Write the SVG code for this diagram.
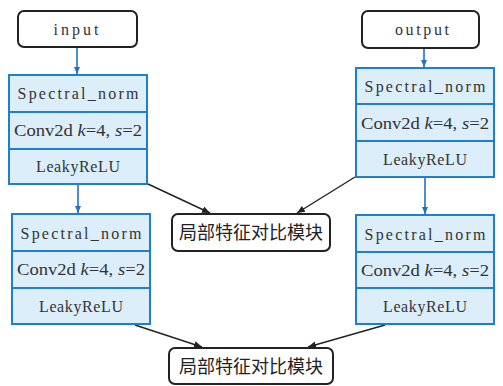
<svg xmlns="http://www.w3.org/2000/svg" width="503" height="386" viewBox="0 0 503 386">
<defs>
<style>
.io{fill:#fff;stroke:#222;stroke-width:2}
.blk{fill:#dcEEFA;stroke:#1f7fcc;stroke-width:2}
.div{stroke:#1f7fcc;stroke-width:2}
.m{font-family:"Liberation Serif",serif;font-size:16px;fill:#333;text-anchor:middle}
.i{font-style:italic}
.cn{font-family:"Noto Sans CJK SC",sans-serif;font-size:18px;fill:#222;text-anchor:middle}
.ba{stroke:#1f72c4;stroke-width:1.6;fill:none}
.ka{stroke:#222;stroke-width:1.4;fill:none}
</style>
<marker id="bh" markerWidth="8" markerHeight="10" refX="7" refY="4" orient="auto" markerUnits="userSpaceOnUse">
<path d="M0,1 L7,4 L0,7 Z" fill="#1f72c4"/>
</marker>
<marker id="kh" markerWidth="10" markerHeight="10" refX="8" refY="4" orient="auto" markerUnits="userSpaceOnUse">
<path d="M0,0.5 L8,4 L0,7.5 Z" fill="#222"/>
</marker>
</defs>
<g id="connectors">
<line class="ba" x1="77" y1="47" x2="77" y2="74" marker-end="url(#bh)"/>
<line class="ba" x1="78" y1="185" x2="78" y2="213" marker-end="url(#bh)"/>
<line class="ba" x1="424" y1="48" x2="424" y2="67" marker-end="url(#bh)"/>
<line class="ba" x1="425" y1="178" x2="425" y2="214" marker-end="url(#bh)"/>
<line class="ka" x1="148" y1="184" x2="210" y2="213" marker-end="url(#kh)"/>
<line class="ka" x1="355" y1="177" x2="297" y2="213" marker-end="url(#kh)"/>
<line class="ka" x1="135" y1="325" x2="202" y2="347" marker-end="url(#kh)"/>
<line class="ka" x1="385" y1="325" x2="308" y2="347" marker-end="url(#kh)"/>
</g>
<g id="input">
<rect class="io" x="18" y="11" width="119" height="36" rx="6"/>
<text class="m" x="76" y="35" textLength="45" lengthAdjust="spacing">input</text>
</g>
<g id="output">
<rect class="io" x="362" y="11" width="117" height="37" rx="6"/>
<text class="m" x="422" y="35" textLength="54" lengthAdjust="spacing">output</text>
</g>
<g id="blockL1">
<rect class="blk" x="9" y="75" width="138" height="109"/>
<line class="div" x1="9" y1="112" x2="147" y2="112"/>
<line class="div" x1="9" y1="149" x2="147" y2="149"/>
<text class="m" x="78" y="99" textLength="121" lengthAdjust="spacing">Spectral_norm</text>
<text class="m" x="78" y="136" textLength="128" lengthAdjust="spacingAndGlyphs">Conv2d <tspan class="i">k</tspan>=4, <tspan class="i">s</tspan>=2</text>
<text class="m" x="78" y="172" textLength="84" lengthAdjust="spacing">LeakyReLU</text>
</g>
<g id="blockR1">
<rect class="blk" x="356" y="68" width="138" height="109"/>
<line class="div" x1="356" y1="104" x2="494" y2="104"/>
<line class="div" x1="356" y1="141" x2="494" y2="141"/>
<text class="m" x="425" y="92" textLength="121" lengthAdjust="spacing">Spectral_norm</text>
<text class="m" x="425" y="128.5" textLength="128" lengthAdjust="spacingAndGlyphs">Conv2d <tspan class="i">k</tspan>=4, <tspan class="i">s</tspan>=2</text>
<text class="m" x="425" y="164.5" textLength="84" lengthAdjust="spacing">LeakyReLU</text>
</g>
<g id="blockL2">
<rect class="blk" x="12" y="214" width="138" height="110"/>
<line class="div" x1="12" y1="251" x2="150" y2="251"/>
<line class="div" x1="12" y1="288" x2="150" y2="288"/>
<text class="m" x="81" y="238.5" textLength="121" lengthAdjust="spacing">Spectral_norm</text>
<text class="m" x="81" y="275" textLength="128" lengthAdjust="spacingAndGlyphs">Conv2d <tspan class="i">k</tspan>=4, <tspan class="i">s</tspan>=2</text>
<text class="m" x="81" y="311.5" textLength="84" lengthAdjust="spacing">LeakyReLU</text>
</g>
<g id="blockR2">
<rect class="blk" x="356" y="215" width="138" height="109"/>
<line class="div" x1="356" y1="252" x2="494" y2="252"/>
<line class="div" x1="356" y1="288" x2="494" y2="288"/>
<text class="m" x="425" y="239.5" textLength="121" lengthAdjust="spacing">Spectral_norm</text>
<text class="m" x="425" y="275.5" textLength="128" lengthAdjust="spacingAndGlyphs">Conv2d <tspan class="i">k</tspan>=4, <tspan class="i">s</tspan>=2</text>
<text class="m" x="425" y="311.5" textLength="84" lengthAdjust="spacing">LeakyReLU</text>
</g>
<g id="local1">
<rect class="io" x="172" y="214" width="158" height="37" rx="6"/>
<text class="cn" x="251" y="239">局部特征对比模块</text>
</g>
<g id="local2">
<rect class="io" x="169" y="348" width="164" height="36" rx="6"/>
<text class="cn" x="251" y="372.5">局部特征对比模块</text>
</g>
</svg>
